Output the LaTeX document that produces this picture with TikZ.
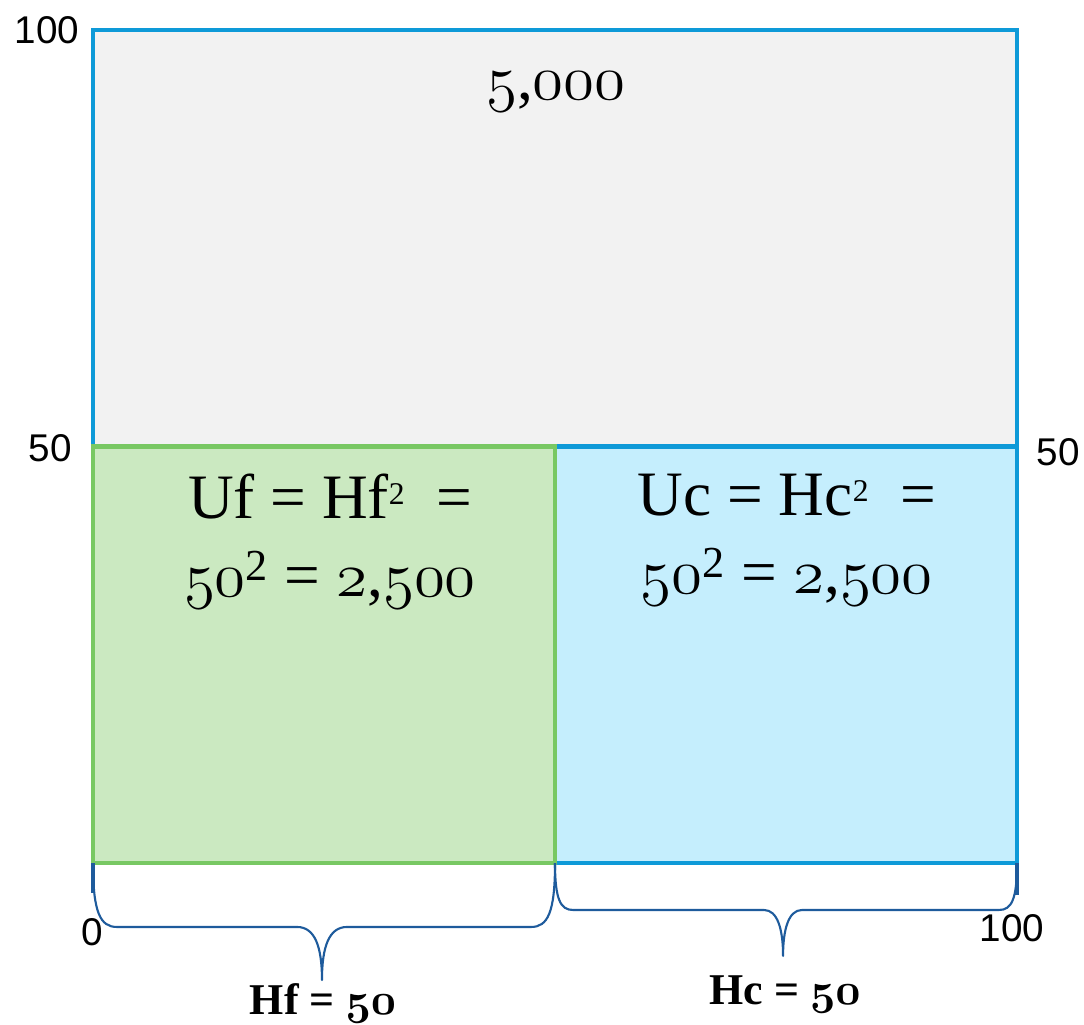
\documentclass[tikz,border=0pt]{standalone}
\usepackage{fontspec}
\setmainfont{Liberation Serif}
\newfontfamily\axisfont{Liberation Sans}
\usetikzlibrary{positioning,calc}
\definecolor{boxBlue}{RGB}{14,154,216}
\definecolor{boxGrey}{RGB}{242,242,242}
\definecolor{cellBlue}{RGB}{197,238,253}
\definecolor{cellGreen}{RGB}{203,233,193}
\definecolor{lineGreen}{RGB}{120,200,99}
\definecolor{braceBlue}{RGB}{30,91,156}
% old style figures from the math italic font, at any size
\DeclareFontShape{OML}{cmm}{m}{it}{<->cmmi12}{}
\DeclareFontShape{OML}{cmm}{b}{it}{<->cmmib10}{}
\newcommand\osnum[1]{{\fontencoding{OML}\fontfamily{cmm}\fontseries{m}\fontshape{it}\selectfont #1}}
\newcommand\osnumbf[1]{{\fontencoding{OML}\fontfamily{cmm}\fontseries{b}\fontshape{it}\selectfont #1}}
\newcommand\sqr{\raisebox{0.5ex}{\fontsize{18}{18}\selectfont 2}}
\begin{document}
\begin{tikzpicture}[
    x=1.848cm, y=1.666cm,
    axislabel/.style={inner sep=0pt, font=\axisfont\fontsize{22}{26}\selectfont},
    areatext/.style={inner sep=0pt, align=center, font=\fontsize{36}{44}\selectfont},
    sidetext/.style={inner sep=0pt, anchor=base, font=\bfseries\fontsize{25}{30}\selectfont},
    brace/.style={draw=braceBlue, line width=1.2pt, line join=round},
    stub/.style={draw=braceBlue, line width=2.2pt}
  ]
  \useasboundingbox (-1.0065,-1.9328) rectangle (10.7251,10.3601);

  % whole area and its two halves
  \coordinate (o) at (0,0);
  \coordinate (mid) at (5,0);
  \coordinate (end) at (10,0);
  \draw[boxBlue, line width=2.8pt, fill=boxGrey] (o) rectangle (10,10);
  \fill[cellBlue] (mid) rectangle (10,5);
  \draw[boxBlue, line width=2.8pt] (0,5) -- (10,5) -- (end) -- (mid);
  \draw[lineGreen, line width=2.3pt, fill=cellGreen] (o) rectangle (5,5);

  % axis values
  \node[axislabel] (ytop) at (-0.498,10.0) {100};
  \node[axislabel] (ymidl) at (-0.465,4.982) {50};
  \node[axislabel] (ymidr) at (10.444,4.934) {50};
  \node[axislabel] (xzero) at (-0.011,-0.828) {0};
  \node[axislabel] (xend) at (9.946,-0.780) {100};

  % areas
  \node[areatext, anchor=base] (total) at (5.01,9.16) {\osnum{5},\osnum{000}};
  \node[areatext, anchor=north] (uf) at (2.565,4.67)
    {Uf = Hf\sqr\ \ =\\ \osnum{50}\textsuperscript{2} = \osnum{2},\osnum{500}};
  \node[areatext, anchor=north] (uc) at (7.51,4.67)
    {Uc = Hc\sqr\ \ =\\ \osnum{50}\textsuperscript{2} = \osnum{2},\osnum{500}};

  % braces under the halves
  \draw[stub] (o) -- ++(0,-0.36);
  \draw[stub] (end) -- ++(0,-0.38);
  \draw[brace] (o) .. controls (0,-0.6) and (0.08,-0.768) .. (0.26,-0.768)
    -- (2.208,-0.768) .. controls (2.40,-0.768) and (2.478,-1.0) .. (2.478,-1.405)
    coordinate (tipf)
    .. controls (2.478,-1.0) and (2.556,-0.768) .. (2.749,-0.768)
    -- (4.74,-0.768) .. controls (4.92,-0.768) and (5,-0.6) .. (mid);
  \draw[brace] (mid) .. controls (5,-0.44) and (5.06,-0.564) .. (5.195,-0.564)
    -- (7.262,-0.564) .. controls (7.41,-0.564) and (7.468,-0.8) .. (7.468,-1.116)
    coordinate (tipc)
    .. controls (7.468,-0.8) and (7.526,-0.564) .. (7.673,-0.564)
    -- (9.805,-0.564) .. controls (9.94,-0.564) and (10,-0.44) .. (end);
  \node[sidetext] (hf) at (2.49,-1.82) {Hf = \osnumbf{50}};
  \node[sidetext] (hc) at (7.49,-1.70) {Hc = \osnumbf{50}};
\end{tikzpicture}
\end{document}
